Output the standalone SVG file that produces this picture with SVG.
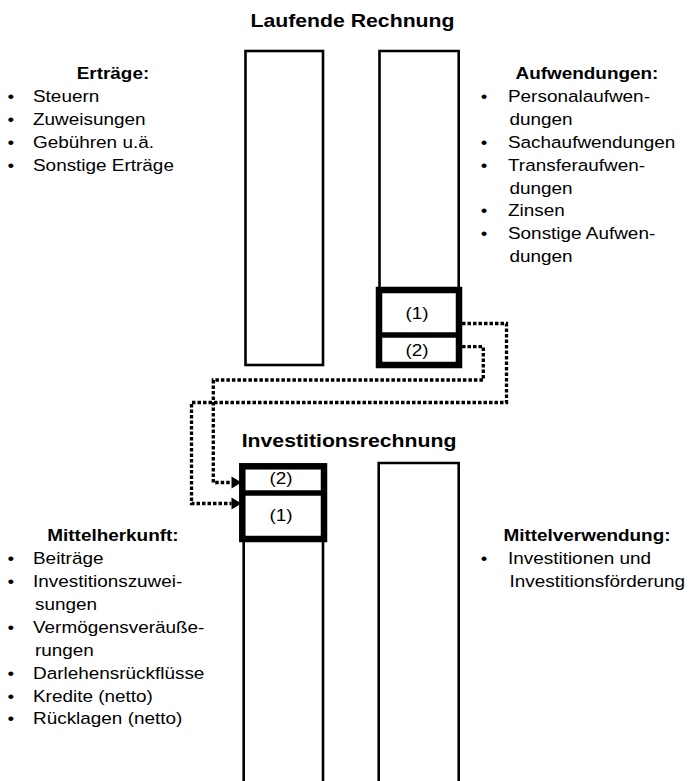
<svg xmlns="http://www.w3.org/2000/svg" width="689" height="781" viewBox="0 0 689 781">
<style>
  text { font-family: "Liberation Sans", Arial, sans-serif; fill: #000; }
  .title { font-size: 18.8px; font-weight: bold; text-anchor: middle; }
  .head { font-size: 17.2px; font-weight: bold; text-anchor: middle; }
  .body { font-size: 17.2px; }
  .lbl { font-size: 17.2px; text-anchor: middle; }
  .col { fill: none; stroke: #000; stroke-width: 2.6; }
  .thick { fill: #fff; stroke: #000; stroke-width: 6.5; }
  .div { stroke: #000; stroke-width: 5.5; }
  .dot { fill: none; stroke: #000; stroke-width: 3.3; stroke-dasharray: 3.5 2; }
</style>
<defs>
  <marker id="arr" markerUnits="userSpaceOnUse" markerWidth="12" markerHeight="14" refX="0" refY="6" orient="auto" overflow="visible">
    <path d="M0,0 L10,6 L0,12 Z" fill="#000"/>
  </marker>
</defs>
<rect width="689" height="781" fill="#fff"/>

<g id="title-laufend" transform="translate(352.5,26.5) scale(1.13,1)"><text class="title" x="0" y="0">Laufende Rechnung</text></g>
<g id="title-invest" transform="translate(349,446.7) scale(1.13,1)"><text class="title" x="0" y="0">Investitionsrechnung</text></g>

<g id="lr-ertraege-col"><rect class="col" x="245.5" y="51" width="77.5" height="314"/></g>
<g id="lr-aufw-col"><path class="col" d="M379.5 290 V51 H458.7 V290"/></g>
<g id="lr-box">
  <rect class="thick" x="379" y="290" width="80" height="75"/>
  <line class="div" x1="379" y1="335" x2="459" y2="335"/>
  <g transform="translate(417,318.5) scale(1.1,1)"><text class="lbl" x="0" y="0">(1)</text></g>
  <g transform="translate(417,356) scale(1.1,1)"><text class="lbl" x="0" y="0">(2)</text></g>
</g>

<g id="ir-herkunft-col"><path class="col" d="M243.7 781 V539 M323 539 V781"/></g>
<g id="ir-verw-col"><path class="col" d="M378.7 781 V463 H458.7 V781"/></g>
<g id="ir-box">
  <rect class="thick" x="242.3" y="466.3" width="81.7" height="72.7"/>
  <line class="div" x1="242.3" y1="493" x2="324" y2="493"/>
  <g transform="translate(281,484) scale(1.1,1)"><text class="lbl" x="0" y="0">(2)</text></g>
  <g transform="translate(281,521) scale(1.1,1)"><text class="lbl" x="0" y="0">(1)</text></g>
</g>

<g id="connectors">
  <path class="dot" d="M462 323.5 H506.5 V402.5 H191.5 V503.5 H231.5" marker-end="url(#arr)"/>
  <path class="dot" d="M462 346.7 H483.3 V380 H213.3 V482.5 H231.5" marker-end="url(#arr)"/>
</g>

<g id="ertraege" transform="scale(1.1,1)">
  <text class="head" x="102.7" y="79">Erträge:</text>
  <text class="body" x="6.8" y="102">•</text><text class="body" x="30" y="102">Steuern</text>
  <text class="body" x="6.8" y="125">•</text><text class="body" x="30" y="125">Zuweisungen</text>
  <text class="body" x="6.8" y="148">•</text><text class="body" x="30" y="148">Gebühren u.ä.</text>
  <text class="body" x="6.8" y="171">•</text><text class="body" x="30" y="171">Sonstige Erträge</text>
</g>

<g id="aufwendungen" transform="scale(1.1,1)">
  <text class="head" x="533.6" y="79">Aufwendungen:</text>
  <text class="body" x="437" y="102">•</text><text class="body" x="461.8" y="102">Personalaufwen-</text>
  <text class="body" x="463.2" y="125">dungen</text>
  <text class="body" x="437" y="148">•</text><text class="body" x="461.8" y="148">Sachaufwendungen</text>
  <text class="body" x="437" y="171">•</text><text class="body" x="461.8" y="171">Transferaufwen-</text>
  <text class="body" x="463.2" y="194">dungen</text>
  <text class="body" x="437" y="216">•</text><text class="body" x="461.8" y="216">Zinsen</text>
  <text class="body" x="437" y="239">•</text><text class="body" x="461.8" y="239">Sonstige Aufwen-</text>
  <text class="body" x="463.2" y="262">dungen</text>
</g>

<g id="mittelherkunft" transform="scale(1.1,1)">
  <text class="head" x="102.7" y="541">Mittelherkunft:</text>
  <text class="body" x="6.8" y="564">•</text><text class="body" x="30" y="564">Beiträge</text>
  <text class="body" x="6.8" y="587">•</text><text class="body" x="30" y="587">Investitionszuwei-</text>
  <text class="body" x="31.8" y="610">sungen</text>
  <text class="body" x="6.8" y="633">•</text><text class="body" x="30" y="633">Vermögensveräuße-</text>
  <text class="body" x="31.8" y="656">rungen</text>
  <text class="body" x="6.8" y="679">•</text><text class="body" x="30" y="679">Darlehensrückflüsse</text>
  <text class="body" x="6.8" y="702">•</text><text class="body" x="30" y="702">Kredite (netto)</text>
  <text class="body" x="6.8" y="724">•</text><text class="body" x="30" y="724">Rücklagen (netto)</text>
</g>

<g id="mittelverwendung" transform="scale(1.1,1)">
  <text class="head" x="533.6" y="541">Mittelverwendung:</text>
  <text class="body" x="437" y="564">•</text><text class="body" x="461.8" y="564">Investitionen und</text>
  <text class="body" x="463.2" y="587">Investitionsförderung</text>
</g>
</svg>
